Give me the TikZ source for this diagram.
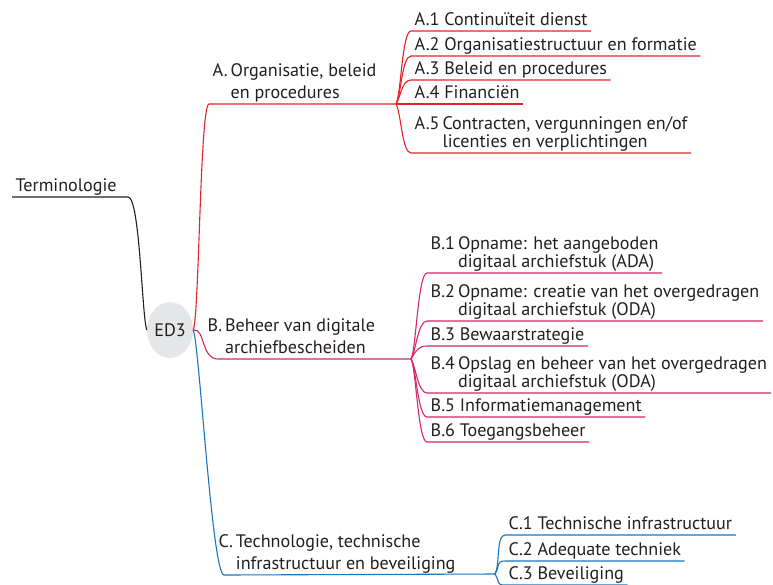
\documentclass[tikz,border=0pt]{standalone}
\usepackage{fontspec}
\setmainfont{PT Sans}
\usepackage{xcolor}
\usetikzlibrary{shapes.geometric}

\definecolor{txtgray}{HTML}{231F20}
\definecolor{ared}{HTML}{E32328}
\definecolor{bred}{HTML}{D4286A}
\definecolor{cblue}{HTML}{1B75BC}
\definecolor{rootgray}{HTML}{E6E7E8}

\newcommand{\twoline}[3]{\begin{tabular}[b]{@{}l@{\hspace{3pt}}l@{}}#1 & #2\\ & #3\end{tabular}}

\tikzset{
  leaf/.style={anchor=south west, inner xsep=3.5pt, inner ysep=5pt, text depth=0pt,
    text=txtgray, font=\fontsize{18.1}{17.5}\selectfont},
  branch/.style={leaf, font=\fontsize{18.1}{22}\selectfont},
  tline/.style={txtgray, line width=1.1pt},
  aline/.style={ared, line width=1.1pt},
  bline/.style={bred, line width=1.1pt},
  cline/.style={cblue, line width=1.1pt}
}

\begin{document}
\begin{tikzpicture}[x=1pt, y=-1pt]
\clip (0,0) rectangle (773,584);
\node[ellipse, fill=rootgray, minimum width=46pt, minimum height=56pt, inner sep=0pt,
  text=txtgray, font=\fontsize{18.1}{17.5}\selectfont] (root) at (170,330) {ED3};
\node[leaf] (term) at (12,197) {Terminologie};
\coordinate (uT) at (128,197);
\draw[tline] (term.south west) -- (uT) .. controls +(12,0) and +(-5,-14) .. (root.west);

% branch A
\node[branch] (A) at (209,104) {\twoline{A.}{Organisatie, beleid}{en procedures}};
\coordinate (uA) at (209,104);
\coordinate (fA) at (396,104);
\draw[aline] (root.east) .. controls +(6,-12) and +(-9,0) .. (uA) -- (fA);
\node[leaf] (a1) at (411,31) {A.1 Continuïteit dienst};
\node[leaf] (a2) at (411,56) {A.2 Organisatiestructuur en formatie};
\node[leaf] (a3) at (411,80) {A.3 Beleid en procedures};
\node[leaf] (a4) at (411,104) {A.4 Financiën};
\node[leaf] (a5) at (411,153) {\twoline{A.5}{Contracten, vergunningen en/of}{licenties en verplichtingen}};
\draw[aline] (fA) .. controls +(5,-8) and +(-9,0) .. (a1.south west) -- (a1.south east);
\draw[aline] (fA) .. controls +(5,-8) and +(-9,0) .. (a2.south west) -- (a2.south east);
\draw[aline] (fA) .. controls +(5,-8) and +(-9,0) .. (a3.south west) -- (a3.south east);
\draw[aline] (fA) -- (a4.south west) -- (a4.south east);
\draw[aline] (fA) .. controls +(5,8) and +(-9,0) .. (a5.south west) -- (a5.south east);

% branch B
\node[branch] (B) at (204,359) {\twoline{B.}{Beheer van digitale}{archiefbescheiden}};
\coordinate (uB) at (218,359);
\coordinate (fB) at (411,359);
\draw[bline] (root.east) .. controls +(12,-2) and +(-17,0) .. (uB) -- (fB);
\node[leaf] (b1) at (427,273) {\twoline{B.1}{Opname: het aangeboden}{digitaal archiefstuk (ADA)}};
\node[leaf] (b2) at (427,321) {\twoline{B.2}{Opname: creatie van het overgedragen}{digitaal archiefstuk (ODA)}};
\node[leaf] (b3) at (427,346) {B.3 Bewaarstrategie};
\node[leaf] (b4) at (427,393) {\twoline{B.4}{Opslag en beheer van het overgedragen}{digitaal archiefstuk (ODA)}};
\node[leaf] (b5) at (427,417) {B.5 Informatiemanagement};
\node[leaf] (b6) at (427,442) {B.6 Toegangsbeheer};
\draw[bline] (fB) .. controls +(5,-8) and +(-9,0) .. (b1.south west) -- (b1.south east);
\draw[bline] (fB) .. controls +(5,-8) and +(-9,0) .. (b2.south west) -- (b2.south east);
\draw[bline] (fB) .. controls +(5,-8) and +(-9,0) .. (b3.south west) -- (b3.south east);
\draw[bline] (fB) .. controls +(5,8) and +(-9,0) .. (b4.south west) -- (b4.south east);
\draw[bline] (fB) .. controls +(5,8) and +(-9,0) .. (b5.south west) -- (b5.south east);
\draw[bline] (fB) .. controls +(5,8) and +(-9,0) .. (b6.south west) -- (b6.south east);

% branch C
\node[branch] (C) at (215,575) {\twoline{C.}{Technologie, technische}{infrastructuur en beveiliging}};
\coordinate (uC) at (224,575);
\coordinate (fC) at (495,574);
\draw[cline] (root.east) .. controls +(6,12) and +(-12,0) .. (uC) -- (fC);
\node[leaf] (c1) at (505,535) {C.1 Technische infrastructuur};
\node[leaf] (c2) at (505,561) {C.2 Adequate techniek};
\node[leaf] (c3) at (505,585) {C.3 Beveiliging};
\draw[cline] (fC) .. controls +(5,-8) and +(-9,0) .. (c1.south west) -- (c1.south east);
\draw[cline] (fC) .. controls +(5,-8) and +(-9,0) .. (c2.south west) -- (c2.south east);
\draw[cline] (fC) .. controls +(5,8) and +(-9,0) .. (c3.south west) -- (c3.south east);
\end{tikzpicture}
\end{document}
